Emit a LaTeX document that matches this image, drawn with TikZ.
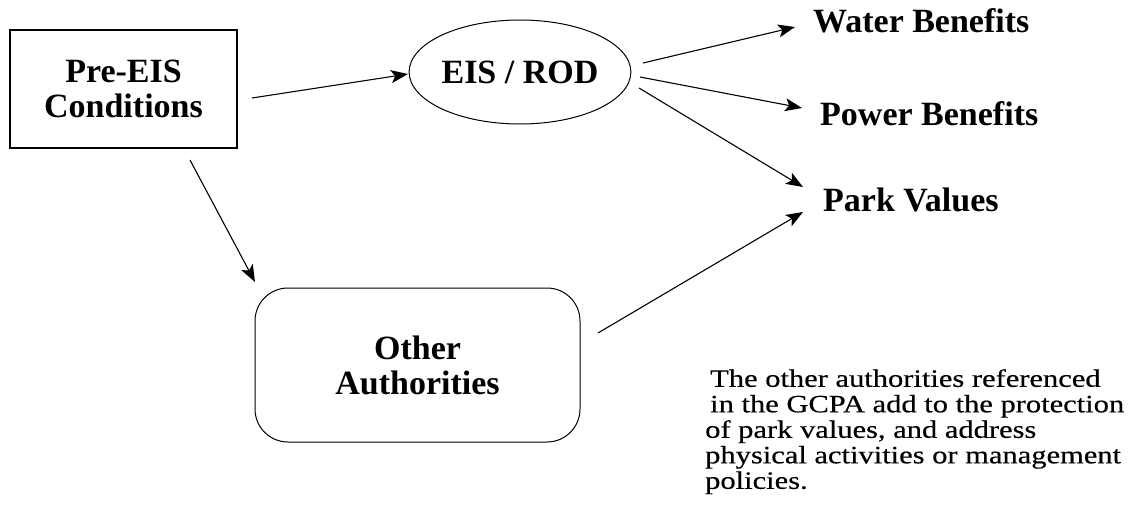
\documentclass[tikz,border=0pt]{standalone}
\usepackage{fontspec}
\setmainfont{Liberation Serif}
\newfontfamily\parafont[FakeStretch=1.22,FakeBold=0.4]{Liberation Serif}
\usetikzlibrary{arrows.meta,shapes.geometric}
\begin{document}
\begin{tikzpicture}[x=1pt,y=-1pt,
  lbl/.style={font=\fontsize{34}{35}\selectfont\bfseries, inner sep=0pt, align=center},
  arr/.style={line width=1.1pt, -{Stealth[length=17pt,width=13pt,inset=4pt]}}]
\useasboundingbox (0,0) rectangle (1133,508);
% nodes
\node[lbl, draw, line width=1.8pt, minimum width=227pt, minimum height=118pt] (pre) at (123.5,89) {Pre-EIS\\Conditions};
\node[lbl, draw, ellipse, line width=1pt, minimum width=204pt, minimum height=104pt] (eis) at (520,72) {EIS / ROD};
\node[lbl, draw, rounded corners=33pt, line width=1pt, minimum width=325pt, minimum height=154pt] (other) at (417.5,365) {Other\\Authorities};
\node[lbl, anchor=west] (water) at (813,21) {Water Benefits};
\node[lbl, anchor=west] (power) at (820,114) {Power Benefits};
\node[lbl, anchor=west] (park) at (823,200) {Park Values};
\node[anchor=north west, inner sep=0pt, align=left, font=\parafont\fontsize{25}{25.5}\selectfont] (note) at (705,369)
  {\hspace{5pt}The other authorities referenced\\\hspace{5pt}in the GCPA add to the protection\\of park values, and address\\physical activities or management\\policies.};
% connector end points
\coordinate (p1) at (252,98);  \coordinate (e1) at (408,74);
\coordinate (p2) at (190,160); \coordinate (o1) at (255,282);
\coordinate (e2) at (643,63);  \coordinate (w1) at (795,27);
\coordinate (e3) at (640,77);  \coordinate (pw1) at (802,108);
\coordinate (e4) at (639,88);  \coordinate (pk1) at (803,187);
\coordinate (o2) at (598,333); \coordinate (pk2) at (803,212);
% connectors
\draw[arr] (p1) -- (e1);
\draw[arr] (p2) -- (o1);
\draw[arr] (e2) -- (w1);
\draw[arr] (e3) -- (pw1);
\draw[arr] (e4) -- (pk1);
\draw[arr] (o2) -- (pk2);
\end{tikzpicture}
\end{document}
